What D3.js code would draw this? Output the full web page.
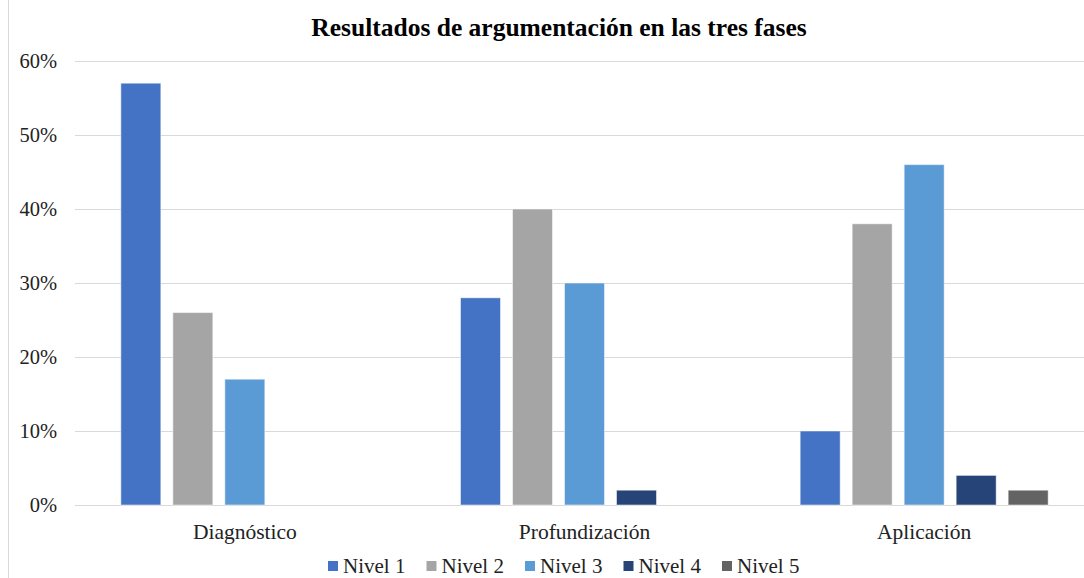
<!DOCTYPE html>
<html>
<head>
<meta charset="utf-8">
<script src="https://cdn.jsdelivr.net/npm/d3@7.9.0/dist/d3.min.js"></script>
<style>
  body { margin: 0; background: #fff; }
  svg { display: block; }
  svg text { font-family: 'Liberation Serif', 'DejaVu Serif', serif; }
</style>
</head>
<body>
<svg id="chart" width="1084" height="578"></svg>
<script>
// ------------------- Data -------------------
const phases = ['Diagnóstico', 'Profundización', 'Aplicación'];
const levels = ['Nivel 1', 'Nivel 2', 'Nivel 3', 'Nivel 4', 'Nivel 5'];
const values = {
  'Nivel 1': [57, 28, 10],
  'Nivel 2': [26, 40, 38],
  'Nivel 3': [17, 30, 46],
  'Nivel 4': [0, 2, 4],
  'Nivel 5': [0, 0, 2]
};
const yTicks = [0, 10, 20, 30, 40, 50, 60];
const colors = ['#4472C4', '#A5A5A5', '#5B9BD5', '#264478', '#636363'];

// ------------------- Layout -------------------
const width = 1084, height = 578;
const plot = { left: 75, right: 1094, top: 61, bottom: 505 };
const serif = "'Liberation Serif', 'DejaVu Serif', serif";

const svg = d3.select('#chart');

// outer chart border (only left edge visible)
svg.append('line')
  .attr('x1', 8.5).attr('x2', 8.5)
  .attr('y1', 0).attr('y2', height)
  .attr('stroke', '#d9d9d9');

const x0 = d3.scaleBand().domain(phases).range([plot.left, plot.right]);
const yScale = d3.scaleLinear().domain([0, 60]).range([plot.bottom, plot.top]);

// gridlines
svg.append('g')
  .selectAll('line')
  .data(yTicks)
  .join('line')
  .attr('x1', plot.left).attr('x2', width)
  .attr('y1', d => Math.round(yScale(d)) + 0.5)
  .attr('y2', d => Math.round(yScale(d)) + 0.5)
  .attr('stroke', '#d9d9d9')
  .attr('stroke-width', 1);

// y tick labels
svg.append('g')
  .selectAll('text')
  .data(yTicks)
  .join('text')
  .attr('x', 57)
  .attr('y', d => yScale(d))
  .attr('dy', '0.35em')
  .attr('text-anchor', 'end')
  .attr('font-family', serif)
  .attr('font-size', 20.5)
  .attr('fill', '#222')
  .text(d => d + '%');

// bars
const groupW = 248;
svg.append('g')
  .selectAll('g')
  .data(phases)
  .join('g')
  .each(function (phase, pi) {
    const c = x0(phase) + x0.bandwidth() / 2;
    const x1 = d3.scaleBand().domain(levels)
      .range([c - groupW / 2, c + groupW / 2])
      .paddingInner(12 / 52).paddingOuter(0);
    d3.select(this).selectAll('rect')
      .data(levels.filter(l => values[l][pi] > 0))
      .join('rect')
      .attr('x', l => x1(l))
      .attr('width', x1.bandwidth())
      .attr('y', l => yScale(values[l][pi]))
      .attr('height', l => yScale(0) - yScale(values[l][pi]))
      .attr('fill', l => colors[levels.indexOf(l)])
      .attr('stroke', '#ffffff')
      .attr('stroke-opacity', 0.5)
      .attr('stroke-width', 1);
  });

// category labels
svg.append('g')
  .selectAll('text')
  .data(phases)
  .join('text')
  .attr('x', d => x0(d) + x0.bandwidth() / 2)
  .attr('y', 531)
  .attr('dy', '0.35em')
  .attr('text-anchor', 'middle')
  .attr('font-family', serif)
  .attr('font-size', 21.5)
  .attr('fill', '#222')
  .text(d => d);

// title
svg.append('text')
  .attr('x', 559)
  .attr('y', 27)
  .attr('dy', '0.35em')
  .attr('text-anchor', 'middle')
  .attr('font-family', serif)
  .attr('font-size', 25.5)
  .attr('font-weight', 'bold')
  .attr('fill', '#000')
  .text('Resultados de argumentación en las tres fases');

// legend
const items = svg.append('g')
  .selectAll('g')
  .data(levels)
  .join('g');
items.append('rect')
  .attr('width', 10).attr('height', 10)
  .attr('y', -5)
  .attr('fill', (d, i) => colors[i]);
items.append('text')
  .attr('x', 15)
  .attr('dy', '0.35em')
  .attr('font-family', serif)
  .attr('font-size', 21)
  .attr('fill', '#222')
  .text(d => d);
let lx = 328;
items.each(function () {
  d3.select(this).attr('transform', `translate(${lx},566)`);
  lx += 98.5;
});
</script>
</body>
</html>
